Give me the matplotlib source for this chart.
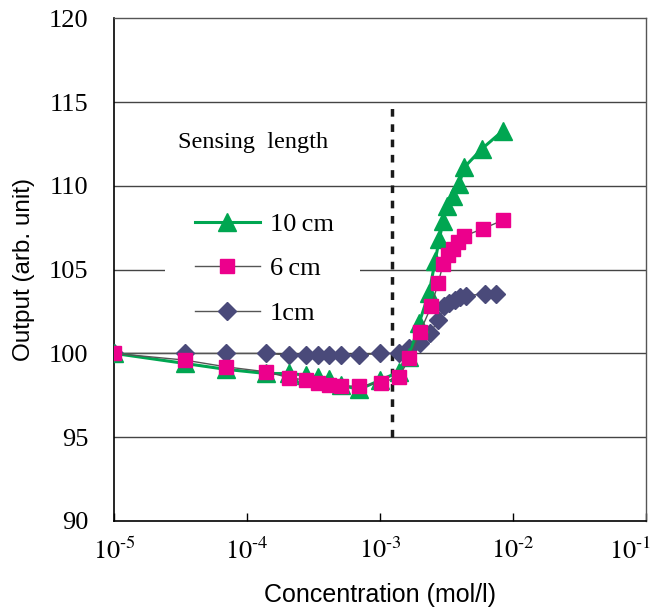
import matplotlib
matplotlib.use("Agg")
import matplotlib.pyplot as plt
import matplotlib.transforms as mtransforms
from matplotlib.patches import Rectangle
from matplotlib.ticker import FixedLocator, FixedFormatter, NullLocator

plt.rcParams['font.family'] = ['Liberation Serif', 'DejaVu Serif']
plt.rcParams['mathtext.fontset'] = 'stix'

# ---- data ----
conc_1cm = [1.0e-5, 3.4e-5, 6.9e-5, 1.39e-4, 2.07e-4, 2.78e-4, 3.42e-4, 4.14e-4,
            5.1e-4, 6.95e-4, 1.0e-3, 1.39e-3, 1.65e-3, 2.0e-3, 2.38e-3, 2.73e-3,
            3.03e-3, 3.3e-3, 3.66e-3, 4.0e-3, 4.43e-3, 6.15e-3, 7.45e-3]
out_1cm = [100.0, 100.0, 100.0, 100.0, 99.9, 99.9, 99.9, 99.9,
           99.9, 99.9, 100.0, 100.0, 100.3, 100.6, 101.2, 102.0,
           102.8, 103.0, 103.2, 103.35, 103.45, 103.55, 103.55]

conc_6cm = [1.0e-5, 3.4e-5, 6.9e-5, 1.39e-4, 2.07e-4, 2.78e-4, 3.42e-4, 4.14e-4,
            5.1e-4, 6.95e-4, 1.02e-3, 1.39e-3, 1.65e-3, 2.0e-3, 2.42e-3, 2.73e-3,
            2.98e-3, 3.24e-3, 3.54e-3, 3.86e-3, 4.28e-3, 5.95e-3, 8.4e-3]
out_6cm = [100.0, 99.6, 99.2, 98.9, 98.55, 98.4, 98.25, 98.1,
           98.05, 98.05, 98.25, 98.6, 99.7, 101.3, 102.8, 104.2,
           105.35, 105.85, 106.25, 106.65, 107.0, 107.45, 107.95]

conc_10cm = [1.0e-5, 3.4e-5, 6.9e-5, 1.39e-4, 2.07e-4, 2.78e-4, 3.42e-4, 4.14e-4,
             5.1e-4, 6.95e-4, 1.0e-3, 1.39e-3, 1.65e-3, 1.96e-3, 2.33e-3, 2.59e-3,
             2.78e-3, 2.98e-3, 3.19e-3, 3.54e-3, 3.93e-3, 4.28e-3, 5.8e-3, 8.4e-3]
out_10cm = [100.0, 99.4, 99.05, 98.8, 98.8, 98.7, 98.6, 98.45,
            98.1, 97.85, 98.4, 98.9, 99.8, 101.8, 103.6, 105.5,
            106.8, 107.9, 108.8, 109.4, 110.1, 111.1, 112.2, 113.3]

sensing_conc = 1.22e-3
xticks = [1e-5, 1e-4, 1e-3, 1e-2, 1e-1]
xticklabels = ['$10^{\u20105}$', '$10^{\u20104}$', '$10^{\u20103}$',
               '$10^{\u20102}$', '$10^{\u20101}$']
yticks = [90, 95, 100, 105, 110, 115, 120]

fig = plt.figure(figsize=(6.56, 6.10), dpi=100)
ax = fig.add_axes([0.174, 0.146, 0.811, 0.824])

for y in yticks[1:-1]:
    ax.axhline(y, color='#444444', lw=1.0, zorder=1)

# white box behind the legend (it hides part of the 105 line)
ax.add_patch(Rectangle((0.096, 0.375), 0.367, 0.26, transform=ax.transAxes,
                       facecolor='white', edgecolor='none', zorder=1.5))

ax.plot([sensing_conc, sensing_conc], [95, 115], color='#1a1a1a', lw=2.5,
        ls=(0, (2.2, 2.2)), zorder=2)

ax.plot(conc_1cm, out_1cm, color='#555555', lw=1.0, marker='D', ms=9,
        mfc='#4a4a7a', mec='#4a4a7a', label='1cm', zorder=3)
ax.plot(conc_10cm, out_10cm, color='#00a651', lw=2.2, marker='^', ms=13,
        mfc='#00a651', mec='#00a651', label='10\u2009cm', zorder=4)
ax.plot(conc_6cm, out_6cm, color='#555555', lw=1.0, marker='s', ms=9.5,
        mfc='#ec008c', mec='#ec008c', label='6\u2009cm', zorder=5)

ax.set_xscale('log')
ax.set_xlim(1e-5, 1e-1)
ax.set_ylim(90, 120)
ax.xaxis.set_major_locator(FixedLocator(xticks))
ax.xaxis.set_major_formatter(FixedFormatter(xticklabels))
ax.xaxis.set_minor_locator(NullLocator())
ax.set_yticks(yticks)
ax.tick_params(axis='x', direction='in', length=6, width=1, labelsize=19, pad=12)
ax.tick_params(axis='y', length=0, labelsize=19, pad=18.5)

# last x label pulled to the left so it stays inside the figure
shift = mtransforms.ScaledTranslation(-16 / 100, 0, fig.dpi_scale_trans)
lab = ax.get_xticklabels()[-1]
lab.set_transform(lab.get_transform() + shift)

for s in ['left', 'bottom']:
    ax.spines[s].set_color('black')
    ax.spines[s].set_linewidth(1.2)
for s in ['top', 'right']:
    ax.spines[s].set_color('#555555')
    ax.spines[s].set_linewidth(1.0)

ax.set_xlabel('Concentration (mol/l)', family='Liberation Sans', fontsize=18, labelpad=14)
ax.set_ylabel('Output (arb. unit)', family='Liberation Sans', fontsize=17.5, labelpad=10)

ax.text(0.12, 0.753, 'Sensing  length', transform=ax.transAxes, fontsize=17.5,
        va='center', ha='left')

h, l = ax.get_legend_handles_labels()
order = [1, 2, 0]
leg = ax.legend([h[i] for i in order], [l[i] for i in order], loc='upper left',
                bbox_to_anchor=(0.152, 0.614), fontsize=19, frameon=False,
                handlelength=2.46, labelspacing=0.8, borderpad=0,
                borderaxespad=0, handletextpad=0.38)
leg.set_zorder(6)

fig.savefig('out.png', dpi=100)
